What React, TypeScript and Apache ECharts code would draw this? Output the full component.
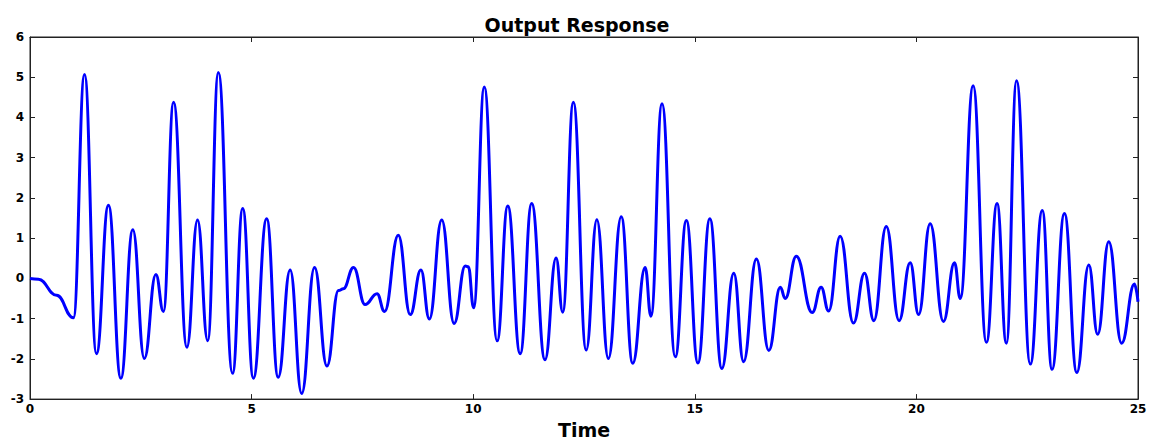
import React, { useEffect, useRef } from "react";
import * as echarts from "echarts";

// Sampled turning points of the output response (time in seconds)
const timePoints = [
  0, 0.19, 0.6, 0.98, 1.23, 1.5, 1.77, 2.05, 2.32, 2.58, 2.84, 3.01, 3.24, 3.54,
  3.78, 4.01, 4.25, 4.57, 4.8, 5.04, 5.34, 5.6, 5.87, 6.13, 6.42, 6.7, 6.96, 7.07, 7.3, 7.56,
  7.83, 8.0, 8.31, 8.58, 8.82, 9.01, 9.29, 9.57, 9.82, 9.89, 10.01, 10.25, 10.54, 10.78, 11.06,
  11.32, 11.62, 11.87, 12.02, 12.26, 12.55, 12.79, 13.05, 13.34, 13.6, 13.88, 14.01, 14.26,
  14.56, 14.81, 15.07, 15.34, 15.61, 15.88, 16.1, 16.39, 16.67, 16.93, 17.04, 17.29, 17.65,
  17.85, 18.02, 18.28, 18.58, 18.83, 19.04, 19.32, 19.61, 19.86, 20.05, 20.31, 20.61, 20.86,
  20.99, 21.28, 21.58, 21.82, 22.03, 22.26, 22.57, 22.84, 23.06, 23.34, 23.62, 23.89, 24.09,
  24.34, 24.63, 24.92, 25.0,
];

const responseValues = [
  0, -0.02, -0.42, -0.98, 5.07, -1.87, 1.82, -2.48, 1.21, -1.99, 0.1, -0.82, 4.38,
  -1.71, 1.45, -1.55, 5.12, -2.36, 1.74, -2.48, 1.48, -2.46, 0.21, -2.86, 0.27, -2.18, -0.3,
  -0.26, 0.27, -0.65, -0.38, -0.82, 1.07, -0.9, 0.21, -1.01, 1.45, -1.12, 0.31, 0.29, -0.73,
  4.76, -1.55, 1.8, -1.87, 1.86, -2.02, 0.51, -0.84, 4.38, -1.78, 1.46, -1.99, 1.53, -2.11,
  0.27, -0.94, 4.34, -1.95, 1.44, -2.1, 1.48, -2.24, 0.13, -2.07, 0.48, -1.79, -0.22, -0.5,
  0.55, -0.85, -0.22, -0.81, 1.05, -1.11, 0.13, -1.05, 1.29, -1.05, 0.39, -0.9, 1.36, -1.07,
  0.39, -0.5, 4.79, -1.59, 1.86, -1.61, 4.91, -2.13, 1.69, -2.26, 1.61, -2.34, 0.33, -1.39,
  0.91, -1.61, -0.14, -0.58,
];

const chartTitle = "Output Response";
const xAxisName = "Time";

const FONT = "'DejaVu Sans', Verdana, sans-serif";

export default function App() {
  const ref = useRef<HTMLDivElement>(null);

  useEffect(() => {
    if (!ref.current) return;
    const chart = echarts.init(ref.current, undefined, { renderer: "svg" });

    const data = timePoints.map((t, i) => [t, responseValues[i]]);

    const axisLine = { show: true, onZero: false, lineStyle: { color: "#222", width: 1 } };
    const tick = { show: true, inside: true, length: 5, lineStyle: { color: "#222" } };
    const label = {
      color: "#000",
      fontWeight: "bold" as const,
      fontFamily: FONT,
      fontSize: 12,
    };

    chart.setOption({
      animation: false,
      backgroundColor: "#fff",
      title: {
        text: chartTitle,
        left: "center",
        top: 10,
        textStyle: { fontFamily: FONT, fontWeight: "bold", fontSize: 19, color: "#000" },
      },
      grid: {
        left: 30,
        width: 1108,
        top: 37,
        height: 371,
        show: true,
        borderColor: "#222",
        borderWidth: 1,
        containLabel: false,
      },
      xAxis: [
        {
          type: "value",
          min: 0,
          max: 25,
          interval: 5,
          position: "bottom",
          axisLine,
          axisTick: tick,
          splitLine: { show: false },
          axisLabel: { ...label, margin: 4 },
          name: xAxisName,
          nameLocation: "middle",
          nameGap: 17,
          nameTextStyle: { fontFamily: FONT, fontWeight: "bold", fontSize: 19, color: "#000" },
        },
        {
          type: "value",
          min: 0,
          max: 25,
          interval: 5,
          position: "top",
          axisLine,
          axisTick: tick,
          splitLine: { show: false },
          axisLabel: { show: false },
        },
      ],
      yAxis: [
        {
          type: "value",
          min: -3,
          max: 6,
          interval: 1,
          position: "left",
          axisLine,
          axisTick: tick,
          splitLine: { show: false },
          axisLabel: { ...label, margin: 6 },
        },
        {
          type: "value",
          min: -3,
          max: 6,
          interval: 1,
          position: "right",
          axisLine,
          axisTick: tick,
          splitLine: { show: false },
          axisLabel: { show: false },
        },
      ],
      series: [
        {
          type: "line",
          data,
          showSymbol: false,
          smooth: 0.45,
          smoothMonotone: "x",
          lineStyle: { color: "#0000ff", width: 3 },
          clip: true,
        },
      ],
    });

    return () => chart.dispose();
  }, []);

  return (
    <div
      ref={ref}
      style={{ position: "fixed", left: 0, top: 0, width: 1154, height: 444, background: "#fff" }}
    />
  );
}
